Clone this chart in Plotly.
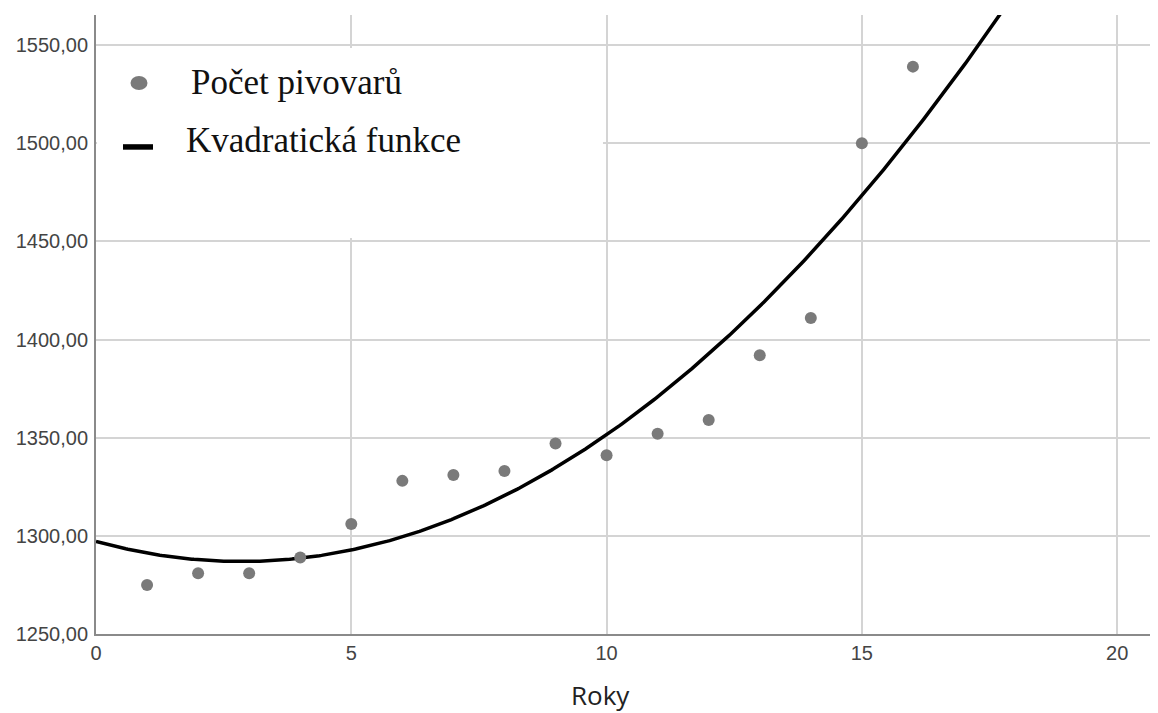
import numpy as np
import plotly.graph_objects as go

# Data
roky = [1, 2, 3, 4, 5, 6, 7, 8, 9, 10, 11, 12, 13, 14, 15, 16]
pocet_pivovaru = [1275, 1281, 1281, 1289, 1306, 1328, 1331, 1333, 1347, 1341,
                  1352, 1359, 1392, 1411, 1500, 1539]
y_ticks = [1250, 1300, 1350, 1400, 1450, 1500, 1550]
y_tick_labels = ["1250,00", "1300,00", "1350,00", "1400,00", "1450,00", "1500,00", "1550,00"]
x_ticks = [0, 5, 10, 15, 20]
legend_labels = ["Počet pivovarů", "Kvadratická funkce"]

# Quadratic fit (as in the original "Kvadratická funkce")
coef = np.polyfit(roky, pocet_pivovaru, 2)
x_fit = np.linspace(0, 20.8, 500)
y_fit = np.polyval(coef, x_fit)

X_RANGE = [0, 20.8]
Y_RANGE = [1250, 1565.3]

# pixel -> data helpers for decorations (plot area: x 96..1158, y 15..634 on page)
def px_x(p):
    return (p - 96) / 51.06

def px_y(p):
    return 1250 + (634 - p) / 1.963

fig = go.Figure()
fig.add_trace(go.Scatter(
    x=x_fit, y=y_fit, mode="lines",
    line=dict(color="#000000", width=3.5),
    showlegend=False, hoverinfo="skip"))
fig.add_trace(go.Scatter(
    x=roky, y=pocet_pivovaru, mode="markers",
    marker=dict(color="#7a7a7a", size=12, line=dict(width=0)),
    showlegend=False))

# white legend box covering gridlines
fig.add_shape(type="rect", xref="x", yref="y", x0=0.02, x1=px_x(603), y0=px_y(238), y1=px_y(48),
              fillcolor="white", line=dict(width=0), layer="between")
# legend symbols
fig.add_shape(type="circle", xref="x", yref="y", x0=px_x(130.5), x1=px_x(147.5),
              y0=px_y(90), y1=px_y(76),
              fillcolor="#7a7a7a", line=dict(width=0), layer="above")
fig.add_shape(type="line", xref="x", yref="y", x0=px_x(123), x1=px_x(153), y0=px_y(147), y1=px_y(147),
              line=dict(color="#000000", width=5.5), layer="above")
# legend texts
fig.add_annotation(x=px_x(189), y=px_y(83), xref="x", yref="y",
                   text=legend_labels[0], showarrow=False, xanchor="left", yanchor="middle",
                   font=dict(family="Liberation Serif", size=35, color="#111111"))
fig.add_annotation(x=px_x(184), y=px_y(141), xref="x", yref="y",
                   text=legend_labels[1], showarrow=False, xanchor="left", yanchor="middle",
                   font=dict(family="Liberation Serif", size=35, color="#111111"))
# axis title
fig.add_annotation(x=(600 - 96) / 1062, y=(634 - 695) / 619, xref="paper", yref="paper",
                   text="Roky", showarrow=False, xanchor="center", yanchor="middle",
                   font=dict(family="Open Sans", size=26, color="#222222"))

# page body has an 8px margin: size the figure so the plot area lands at x 96..1158, y 15..634
fig.update_layout(
    width=1150, height=705,
    margin=dict(l=88, r=0, t=7, b=79),
    paper_bgcolor="white", plot_bgcolor="white",
    showlegend=False,
)
fig.update_xaxes(
    range=X_RANGE, tickmode="array", tickvals=x_ticks, ticktext=[str(v) for v in x_ticks],
    showgrid=True, gridcolor="#d4d4d4", gridwidth=2,
    showline=True, linecolor="#8a8a8a", linewidth=2, zeroline=False,
    tickfont=dict(family="Liberation Sans", size=20, color="#444444"),
    ticks="", ticklabelstandoff=0,
)
fig.update_yaxes(
    range=Y_RANGE, tickmode="array", tickvals=y_ticks, ticktext=y_tick_labels,
    showgrid=True, gridcolor="#d4d4d4", gridwidth=2,
    showline=True, linecolor="#8a8a8a", linewidth=2, zeroline=False,
    tickfont=dict(family="Liberation Sans", size=20, color="#444444"),
    ticks="", ticklabelstandoff=2,
)

fig.write_html("out.html")
